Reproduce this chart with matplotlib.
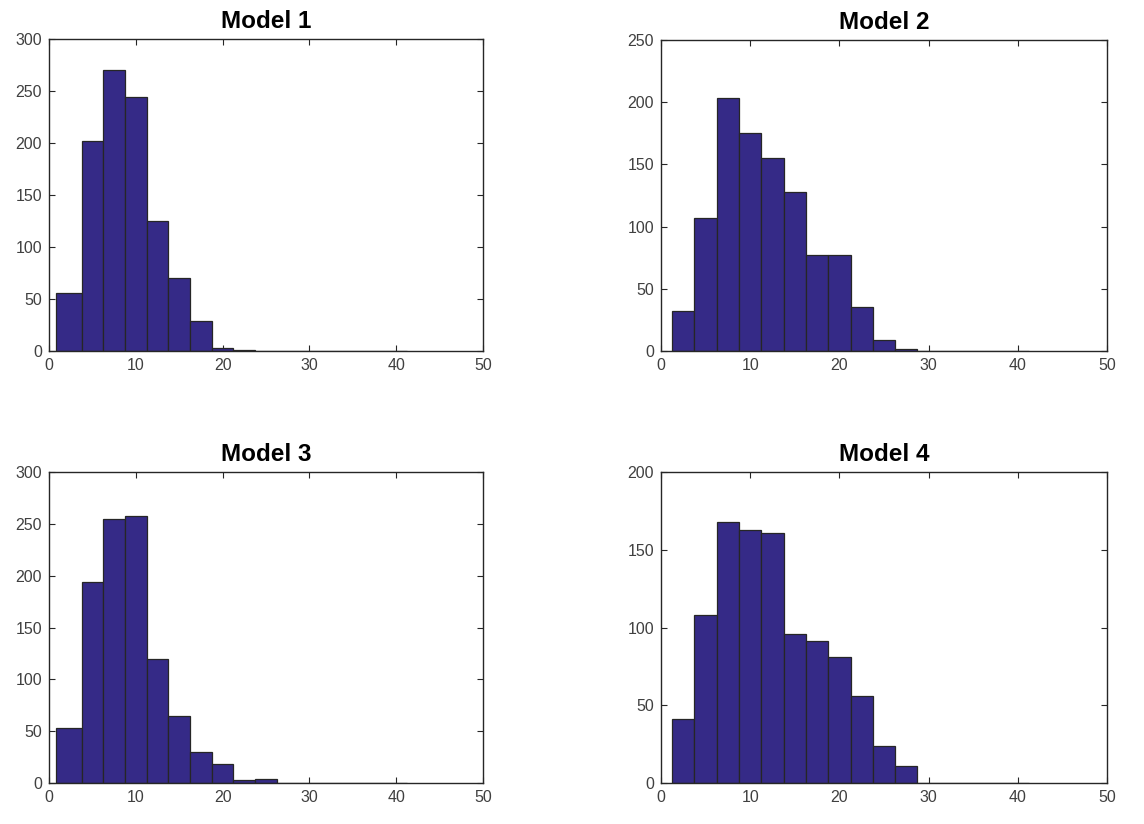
import matplotlib
matplotlib.use("Agg")
import matplotlib.pyplot as plt
import numpy as np

# Shared bin edges (bin width 2.5); the first edge varies per model
inner_edges = [3.75, 6.25, 8.75, 11.25, 13.75, 16.25, 18.75, 21.25,
               23.75, 26.25, 28.75, 31.25, 33.75, 36.25, 38.75, 41.25]
first_edge = {"Model 1": 0.75, "Model 2": 1.25, "Model 3": 0.75, "Model 4": 1.25}

titles = ["Model 1", "Model 2", "Model 3", "Model 4"]

counts_model1 = [56, 202, 270, 244, 125, 70, 29, 3, 1, 0, 0, 0, 0, 0, 0, 0]
counts_model2 = [32, 107, 203, 175, 155, 128, 77, 77, 35, 9, 2, 0, 0, 0, 0, 0]
counts_model3 = [53, 194, 255, 258, 120, 65, 30, 18, 3, 4, 0, 0, 0, 0, 0, 0]
counts_model4 = [41, 108, 168, 163, 161, 96, 91, 81, 56, 24, 11, 0, 0, 0, 0, 0]

y_max = [300, 250, 300, 200]
x_ticks = [0, 10, 20, 30, 40, 50]

counts = [counts_model1, counts_model2, counts_model3, counts_model4]

W, H = 1144, 824
fig = plt.figure(figsize=(W / 100, H / 100), dpi=100)

# Axes boxes in pixels: (left, top, right, bottom)
boxes = [(49, 39, 483, 351), (661, 40, 1107, 351),
         (49, 472, 483, 783), (661, 472, 1107, 783)]

bar_color = "#352a87"
edge_color = "#262626"
tick_color = "#404040"
font = "Liberation Sans"

for title, cnt, ymax, (l, t, r, b) in zip(titles, counts, y_max, boxes):
    ax = fig.add_axes([l / W, 1 - b / H, (r - l) / W, (b - t) / H])
    edges = np.array([first_edge[title]] + inner_edges)
    ax.bar(edges[:-1], cnt, width=np.diff(edges), align="edge",
           color=bar_color, edgecolor=edge_color, linewidth=0.9, zorder=2)
    ax.set_xlim(0, 50)
    ax.set_ylim(0, ymax)
    ax.set_xticks(x_ticks)
    ax.set_yticks(np.arange(0, ymax + 1, 50))
    ax.tick_params(direction="in", top=True, right=True, length=4,
                   width=0.8, colors=edge_color, labelcolor=tick_color,
                   labelsize=11.5, pad=5)
    for lab in ax.get_xticklabels() + ax.get_yticklabels():
        lab.set_fontfamily(font)
    for sp in ax.spines.values():
        sp.set_color(edge_color)
        sp.set_linewidth(1.0)
        sp.set_zorder(3)
    ax.set_title(title, fontsize=17.5, fontweight="bold", family=font,
                 color="black", pad=8)

fig.savefig("out.png", dpi=100, facecolor="white")
